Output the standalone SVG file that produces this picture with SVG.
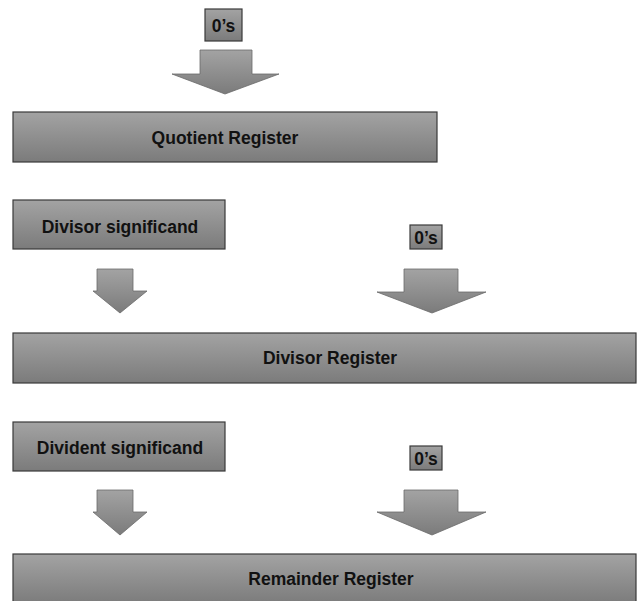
<svg xmlns="http://www.w3.org/2000/svg" width="638" height="601" viewBox="0 0 638 601">
<style>
.box{fill:url(#g);stroke:#3a3a3a;stroke-width:1.2}
.arr{fill:url(#g);stroke:#6a6a6a;stroke-width:0.8}
.t{font-family:"Liberation Sans",Arial,sans-serif;font-weight:bold;font-size:17.5px;fill:#111;text-anchor:middle}
</style>
<defs>
<linearGradient id="g" x1="0" y1="0" x2="0" y2="1">
<stop offset="0" stop-color="#a3a3a3"/>
<stop offset="1" stop-color="#7b7b7b"/>
</linearGradient>
</defs>
<g id="zeros1"><rect class="box" x="205" y="9" width="37" height="32"/><text class="t" x="223.5" y="31.5">0’s</text></g>
<g id="quotient"><rect class="box" x="13" y="112" width="424" height="50"/><text class="t" x="225" y="143.5">Quotient Register</text></g>
<g id="divsig"><rect class="box" x="13" y="200" width="212" height="49"/><text class="t" x="120" y="232.5">Divisor significand</text></g>
<g id="zeros2"><rect class="box" x="410" y="225" width="32" height="24"/><text class="t" x="426" y="243.5">0’s</text></g>
<g id="divreg"><rect class="box" x="13" y="333" width="623" height="50"/><text class="t" x="330" y="364">Divisor Register</text></g>
<g id="dividend"><rect class="box" x="13" y="422" width="212" height="49"/><text class="t" x="120" y="453.5">Divident significand</text></g>
<g id="zeros3"><rect class="box" x="410" y="446" width="32" height="24"/><text class="t" x="426" y="464.5">0’s</text></g>
<g id="remreg"><rect class="box" x="13" y="554" width="623" height="50"/><text class="t" x="331" y="585">Remainder Register</text></g>
<g id="connectors">
<path class="arr" d="M200,50 H252 V74 H279 L225,94 L172,74 H200 Z"/>
<path class="arr" d="M97,269 H133 V291 H147 L120,313 L93,291 H97 Z"/>
<path class="arr" d="M404,269 H458 V292 H486 L432,313 L377,292 H404 Z"/>
<path class="arr" d="M97,490 H133 V512 H147 L120,535 L93,512 H97 Z"/>
<path class="arr" d="M404,490 H458 V512 H486 L432,535 L377,512 H404 Z"/>
</g>
</svg>
